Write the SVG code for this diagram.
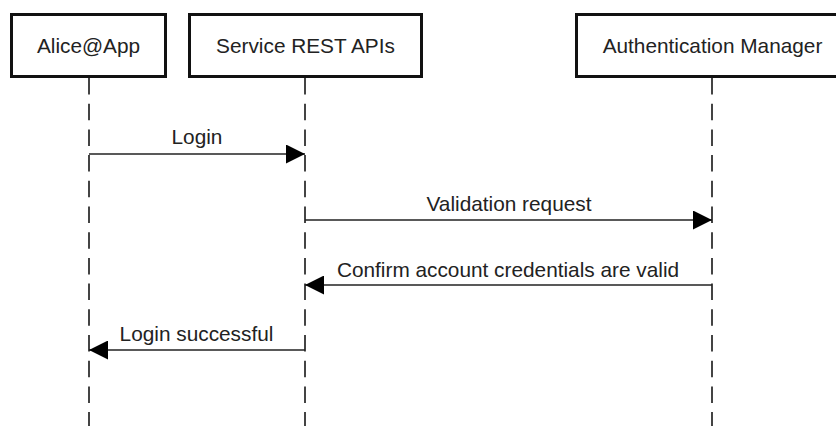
<svg xmlns="http://www.w3.org/2000/svg" width="836" height="426" viewBox="0 0 836 426">
<defs>
<style>
.box{fill:#fff;stroke:#111;stroke-width:3}
.lbl{font-family:"Liberation Sans",Arial,Helvetica,sans-serif;font-size:20.8px;fill:#222;text-anchor:middle}
.life{stroke:#444;stroke-width:2;stroke-dasharray:16.5 9.2;fill:none}
.msg{stroke:#222;stroke-width:1.6;fill:none}
</style>
<marker id="ah" viewBox="0 0 19 19" refX="19" refY="9.5" markerWidth="19" markerHeight="19" markerUnits="userSpaceOnUse" orient="auto">
<path d="M0,0 L19,9.5 L0,19 Z" fill="#000"/>
</marker>
</defs>
<rect width="836" height="426" fill="#fff"/>
<g id="lifelines">
<line class="life" x1="89" y1="78" x2="89" y2="426"/>
<line class="life" x1="305" y1="78" x2="305" y2="426"/>
<line class="life" x1="712" y1="78" x2="712" y2="426"/>
</g>
<g id="alice">
<rect class="box" x="11.5" y="14.5" width="154" height="62"/>
<text class="lbl" x="88.5" y="53">Alice@App</text>
</g>
<g id="service">
<rect class="box" x="189.5" y="14.5" width="232" height="62"/>
<text class="lbl" x="305.5" y="53">Service REST APIs</text>
</g>
<g id="auth">
<rect class="box" x="576.5" y="14.5" width="271" height="62"/>
<text class="lbl" x="712.5" y="53">Authentication Manager</text>
</g>
<g id="connectors">
<line class="msg" x1="89" y1="154" x2="305" y2="154" marker-end="url(#ah)"/>
<text class="lbl" x="197" y="144">Login</text>
<line class="msg" x1="305" y1="220" x2="712" y2="220" marker-end="url(#ah)"/>
<text class="lbl" x="509" y="211">Validation request</text>
<line class="msg" x1="712" y1="285" x2="305" y2="285" marker-end="url(#ah)"/>
<text class="lbl" x="508" y="277">Confirm account credentials are valid</text>
<line class="msg" x1="305" y1="350" x2="89" y2="350" marker-end="url(#ah)"/>
<text class="lbl" x="196.5" y="341">Login successful</text>
</g>
</svg>
